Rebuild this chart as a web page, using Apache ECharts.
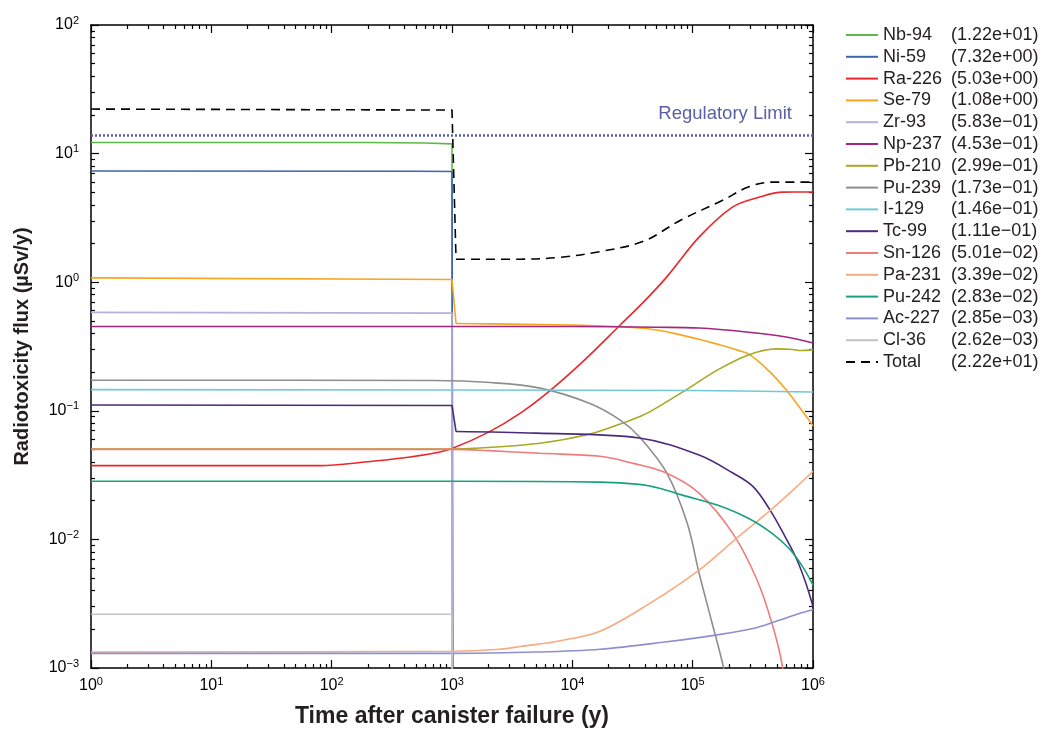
<!DOCTYPE html>
<html>
<head>
<meta charset="utf-8">
<title>Radiotoxicity flux</title>
<script src="https://cdn.jsdelivr.net/npm/echarts@6/dist/echarts.min.js"></script>
<style>
  html, body { margin: 0; padding: 0; background: #fff; }
  #main { width: 1043px; height: 729px; }
</style>
</head>
<body>
<div id="main"></div>
<script>
// nuclide names, peak values shown in the legend, colours
var nuclides = ['Nb-94', 'Ni-59', 'Ra-226', 'Se-79', 'Zr-93', 'Np-237', 'Pb-210', 'Pu-239',
  'I-129', 'Tc-99', 'Sn-126', 'Pa-231', 'Pu-242', 'Ac-227', 'Cl-36', 'Total'];
var peaks = ['1.22e+01', '7.32e+00', '5.03e+00', '1.08e+00', '5.83e\u221201', '4.53e\u221201',
  '2.99e\u221201', '1.73e\u221201', '1.46e\u221201', '1.11e\u221201', '5.01e\u221202', '3.39e\u221202',
  '2.83e\u221202', '2.85e\u221203', '2.62e\u221203', '2.22e+01'];
var colors = ['#5cb946', '#3d64b0', '#e8282b', '#f8a51f', '#b5b0dc', '#a5267f', '#a9a823', '#8e8e8e',
  '#72c8d8', '#4b2a7c', '#ee7c7d', '#f6ab80', '#16a27c', '#8d90cf', '#c3c3c3', '#000000'];

// [time (y), flux (uSv/y)]
// step curves: the part up to the drop at 1000 y is kept apart from the smooth tail
var nb94 = [[1, 12.2], [200, 12.2], [600, 12.1], [1000, 11.9], [1010, 1e-6]];
var ni59 = [[1, 7.32], [500, 7.3], [1000, 7.25], [1030, 1e-6]];
var zr93 = [[1, 0.583], [1000, 0.575], [1010, 1e-6]];
var cl36 = [[1, 0.00262], [1000, 0.00262], [1005, 1e-6]];
var se79Early = [[1, 1.08], [1000, 1.05], [1080, 0.477]];
var se79Late = [[1080, 0.477], [3000, 0.472], [10000, 0.465], [20000, 0.455], [36000, 0.440],
  [50000, 0.425], [70000, 0.400], [113000, 0.360], [160000, 0.330], [240000, 0.295], [300000, 0.272],
  [440000, 0.200], [600000, 0.145], [780000, 0.105], [1000000, 0.0766]];
var tc99Early = [[1, 0.111], [1000, 0.110], [1080, 0.069]];
var tc99Late = [[1080, 0.069], [5000, 0.067], [36000, 0.0615], [113000, 0.0453],
  [216000, 0.0328], [318000, 0.0257], [440000, 0.0169], [586000, 0.0105], [737000, 0.00691],
  [892000, 0.00429], [1000000, 0.0030]];
var totalEarly = [[1, 22.2], [1000, 21.8], [1080, 1.51]];
var totalLate = [[1080, 1.51], [3700, 1.51], [7800, 1.56], [17000, 1.73], [39000, 2.08], [80000, 3.05],
  [180000, 4.36], [290000, 5.5], [460000, 6.0], [1000000, 6.0]];
var ra226 = [[1, 0.0375], [80, 0.0375], [200, 0.0402], [370, 0.0427], [700, 0.0467], [1000, 0.051],
  [2000, 0.068], [3700, 0.096], [6600, 0.145], [12600, 0.248], [25000, 0.465], [39000, 0.70],
  [61000, 1.10], [113000, 2.24], [214000, 3.84], [360000, 4.60], [560000, 5.02], [1000000, 5.03]];
var np237 = [[1, 0.453], [10000, 0.452], [50000, 0.446], [113000, 0.44], [280000, 0.41],
  [600000, 0.375], [1000000, 0.337]];
var pb210 = [[1, 0.0505], [1000, 0.0505], [1500, 0.051], [5400, 0.056], [14000, 0.066], [26000, 0.080],
  [36000, 0.090], [44000, 0.098], [93000, 0.150], [160000, 0.207], [290000, 0.272], [500000, 0.303],
  [680000, 0.300], [780000, 0.294], [1000000, 0.299]];
var pu239 = [[1, 0.173], [700, 0.172], [2080, 0.166], [5400, 0.150], [14000, 0.114], [25000, 0.0847],
  [36000, 0.0629], [61000, 0.0328], [90000, 0.0134], [113000, 0.00548], [145000, 0.00224],
  [180000, 0.00102], [220000, 0.0004]];
var i129 = [[1, 0.146], [100000, 0.144], [1000000, 0.14]];
var sn126 = [[1, 0.0501], [1000, 0.0501], [2000, 0.049], [5400, 0.0467], [17000, 0.0443], [32000, 0.039],
  [61000, 0.0327], [113000, 0.0229], [216000, 0.0111], [343000, 0.00483], [465000, 0.00209],
  [560000, 0.001], [700000, 0.0002]];
var pa231 = [[1, 0.00133], [1000, 0.00135], [2500, 0.0014], [3700, 0.00147], [7900, 0.00163],
  [17000, 0.00193], [44000, 0.00318], [113000, 0.00578], [240000, 0.0105], [415000, 0.016],
  [682000, 0.0242], [1000000, 0.0339]];
var pu242 = [[1, 0.0283], [1000, 0.0283], [17000, 0.0279], [36000, 0.0268], [53000, 0.0250],
  [82000, 0.0221], [160000, 0.0185], [290000, 0.0146], [460000, 0.0111], [630000, 0.00853],
  [820000, 0.00614], [1000000, 0.00441]];
var ac227 = [[1, 0.0013], [1000, 0.0013], [5000, 0.00133], [17000, 0.0014], [61000, 0.0016],
  [160000, 0.00181], [318000, 0.00203], [502000, 0.00232], [780000, 0.00266], [1000000, 0.00285]];
var regulatoryLimit = 14;

// pieces of each curve: [data, smoothed?]
var curves = {
  'Nb-94': [[nb94, false]],
  'Ni-59': [[ni59, false]],
  'Ra-226': [[ra226, true]],
  'Se-79': [[se79Early, false], [se79Late, true]],
  'Zr-93': [[zr93, false]],
  'Np-237': [[np237, true]],
  'Pb-210': [[pb210, true]],
  'Pu-239': [[pu239, true]],
  'I-129': [[i129, true]],
  'Tc-99': [[tc99Early, false], [tc99Late, true]],
  'Sn-126': [[sn126, true]],
  'Pa-231': [[pa231, true]],
  'Pu-242': [[pu242, true]],
  'Ac-227': [[ac227, true]],
  'Cl-36': [[cl36, false]],
  'Total': [[totalEarly, false], [totalLate, true]]
};

var font = 'Liberation Sans';
var chart = echarts.init(document.getElementById('main'));

// minor ticks of a log axis, in decades
function minorTicks(lo, hi) {
  var out = [];
  for (var n = lo; n < hi; n++) {
    for (var k = 2; k <= 9; k++) out.push(n + Math.log10(k));
  }
  return out;
}

function powLabel(value) {
  var e = Math.round(Math.log10(value));
  return '{b|10}{s|' + (e < 0 ? '\u2212' + (-e) : e) + '}';
}
var labelRich = {
  b: { fontSize: 16, fontFamily: font, color: '#000' },
  s: { fontSize: 11, fontFamily: font, color: '#000', padding: [0, 0, 9, 0] }
};

var series = [];
nuclides.forEach(function (name, i) {
  var isTotal = name == 'Total';
  curves[name].forEach(function (piece, j) {
    series.push({
      name: name,
      type: 'line',
      data: piece[0],
      smooth: piece[1] ? 0.35 : false,
      symbol: 'none',
      clip: true,
      z: isTotal ? 5 : 3,
      lineStyle: { color: colors[i], width: 1.6, type: isTotal ? [9, 6] : 'solid' },
      itemStyle: { color: colors[i] },
      markLine: (isTotal && j == 0) ? {
        silent: true,
        symbol: 'none',
        data: [{ yAxis: regulatoryLimit }],
        lineStyle: { color: '#5960a8', width: 2.5, type: [2, 2] },
        label: {
          position: 'insideEndTop',
          formatter: 'Regulatory Limit',
          color: '#5960a8',
          fontFamily: font,
          fontSize: 18.5,
          distance: 10,
          padding: [0, 11, 1, 0]
        }
      } : undefined
    });
  });
});

function axisCommon(extra) {
  var base = {
    axisLine: { onZero: false, lineStyle: { color: '#000', width: 1.5 } },
    axisTick: { inside: true, length: 8, lineStyle: { color: '#000', width: 1.2 } },
    axisLabel: { show: false },
    splitLine: { show: false }
  };
  return echarts.util.merge(base, extra, true);
}
function minorAxis(lo, hi, position) {
  return {
    type: 'value', min: lo, max: hi, position: position,
    axisLine: { show: false, onZero: false },
    axisTick: { inside: true, length: 4, customValues: minorTicks(lo, hi), lineStyle: { color: '#000', width: 1.2 } },
    axisLabel: { show: false },
    splitLine: { show: false }
  };
}

chart.setOption({
  animation: false,
  backgroundColor: '#fff',
  grid: { left: 91, right: 230, top: 25, bottom: 61, outerBoundsMode: 'none' },
  legend: {
    data: nuclides,
    orient: 'vertical',
    left: 845,
    top: 26,
    padding: 0,
    itemWidth: 32,
    itemHeight: 2,
    itemGap: 3.8,
    itemStyle: { opacity: 0 },
    formatter: function (name) {
      return '{n|' + name + '}{v|(' + peaks[nuclides.indexOf(name)] + ')}';
    },
    textStyle: {
      fontFamily: font,
      fontSize: 18,
      color: '#231f20',
      lineHeight: 18,
      rich: {
        n: { width: 68, fontFamily: font, fontSize: 18, color: '#231f20' },
        v: { fontFamily: font, fontSize: 18, color: '#231f20' }
      }
    }
  },
  xAxis: [
    axisCommon({
      type: 'log', logBase: 10, min: 1, max: 1000000, position: 'bottom',
      name: 'Time after canister failure (y)', nameLocation: 'middle', nameGap: 37,
      nameTextStyle: { fontFamily: font, fontSize: 23, fontWeight: 'bold', color: '#231f20' },
      axisLabel: { show: true, formatter: powLabel, rich: labelRich, margin: 8 }
    }),
    minorAxis(0, 6, 'bottom'),
    axisCommon({ type: 'log', logBase: 10, min: 1, max: 1000000, position: 'top' }),
    minorAxis(0, 6, 'top')
  ],
  yAxis: [
    axisCommon({
      type: 'log', logBase: 10, min: 0.001, max: 100, position: 'left',
      name: 'Radiotoxicity flux (\u00b5Sv/y)', nameLocation: 'middle', nameGap: 59,
      nameTextStyle: { fontFamily: font, fontSize: 20, fontWeight: 'bold', color: '#231f20' },
      axisLabel: { show: true, formatter: powLabel, rich: labelRich, margin: 12 }
    }),
    minorAxis(-3, 2, 'left'),
    axisCommon({ type: 'log', logBase: 10, min: 0.001, max: 100, position: 'right' }),
    minorAxis(-3, 2, 'right')
  ],
  series: series
});
</script>
</body>
</html>
